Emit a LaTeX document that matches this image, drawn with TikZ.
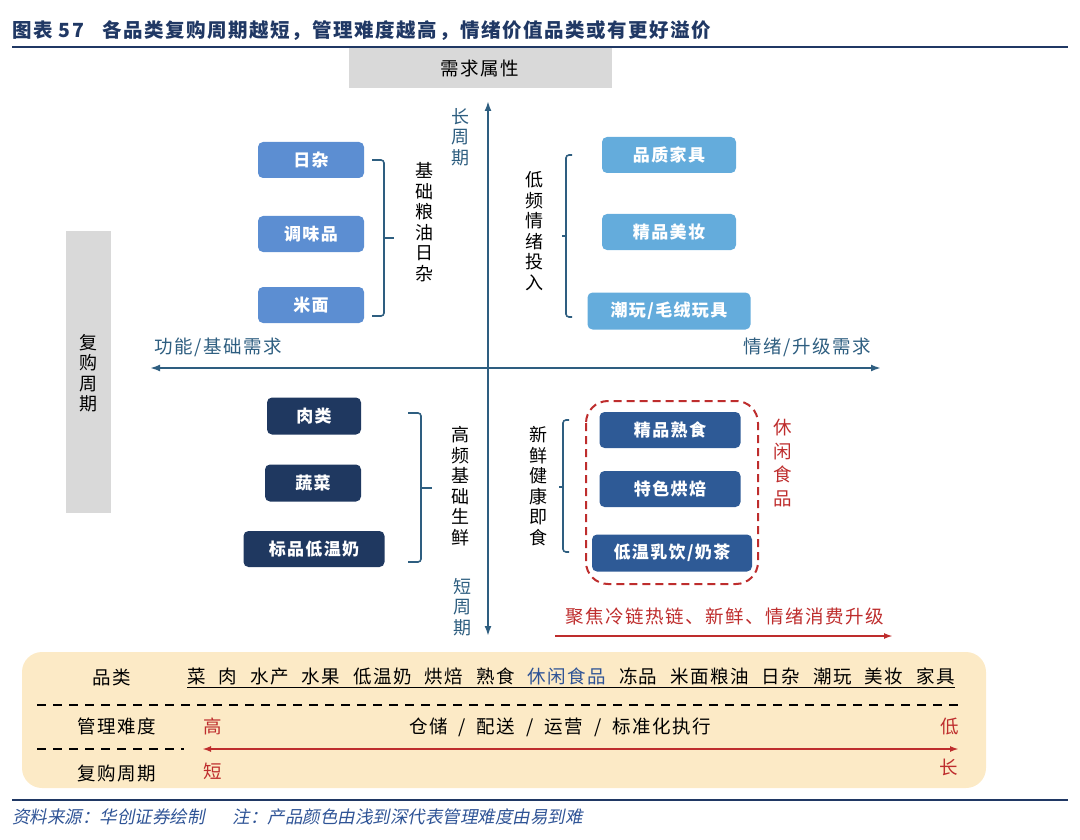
\documentclass[tikz,border=0pt]{standalone}
\usepackage{fontspec}
\setmainfont{Noto Sans CJK SC}[LetterSpace=8]
\newfontfamily\slantfont[FakeSlant=0.2]{Noto Sans CJK SC}
\usetikzlibrary{arrows.meta}

\definecolor{titleblue}{RGB}{32,56,100}
\definecolor{axisblue}{RGB}{46,94,128}
\definecolor{lightbox}{RGB}{92,142,210}
\definecolor{skybox}{RGB}{100,172,220}
\definecolor{navybox}{RGB}{31,56,96}
\definecolor{midbox}{RGB}{46,90,150}
\definecolor{accent}{RGB}{190,45,45}
\definecolor{panel}{RGB}{252,234,198}
\definecolor{greybox}{RGB}{217,217,217}
\definecolor{noteblue}{RGB}{47,84,150}

\begin{document}
\begin{tikzpicture}[x=1pt, y=-1pt,
  catbox/.style={fill=#1, rounded corners=5pt, text=white, inner sep=0pt,
    font=\fontsize{17}{17}\selectfont\bfseries},
  vlab/.style={align=center, inner sep=0pt, font=\fontsize{18}{20.5}\selectfont},
  hlab/.style={inner sep=0pt, font=\fontsize{18.5}{18.5}\selectfont},
  axis/.style={axisblue, line width=2.2pt, arrows={-Latex[length=10pt,width=7pt]}},
  brace/.style={axisblue, line width=1.6pt, rounded corners=3pt},
  dashline/.style={black, line width=2.2pt, dash pattern=on 9pt off 7pt}]
  \useasboundingbox (0,0) rectangle (1080,840);

  % Title and rules
  \node[anchor=west, inner sep=0pt, text=titleblue, font=\fontsize{19.5}{19.5}\selectfont\bfseries]
    (title) at (12,31) {图表 57\hspace{18pt}各品类复购周期越短，管理难度越高，情绪价值品类或有更好溢价};
  \draw[titleblue, line width=2.5pt] (12,47) -- (1068,47);
  \draw[titleblue, line width=2.5pt] (12,800) -- (1068,800);

  % Grey headers
  \node[fill=greybox, minimum width=263, minimum height=40, inner sep=0pt, hlab] (demand) at (480,68) {需求属性};
  \node[fill=greybox, minimum width=45, minimum height=282, inner sep=0pt] (cyclebar) at (88,372) {};
  \node[vlab] (cycle) at (88,373) {复\\购\\周\\期};

  % Axes
  \coordinate (xmid) at (488,368);
  \coordinate (xleft) at (150,368);
  \coordinate (xright) at (881,368);
  \coordinate (ytop) at (488,101);
  \coordinate (ybot) at (488,636);
  \draw[axis] (xmid) -- (xleft);
  \draw[axis] (xmid) -- (xright);
  \draw[axis] (xmid) -- (ytop);
  \draw[axis] (xmid) -- (ybot);

  % Axis labels
  \node[vlab, text=axisblue] (long) at (460,137) {长\\周\\期};
  \node[vlab, text=axisblue] (short) at (462,607) {短\\周\\期};
  \node[hlab, text=axisblue] (basic) at (218,347) {功能/基础需求};
  \node[hlab, text=axisblue] (upgrade) at (807,347) {情绪/升级需求};

  % Top left
  \node[catbox=lightbox, minimum width=106, minimum height=36] (daily) at (311,160) {日杂};
  \node[catbox=lightbox, minimum width=106, minimum height=36] (spice) at (311,234) {调味品};
  \node[catbox=lightbox, minimum width=106, minimum height=36] (rice) at (311,305) {米面};
  \draw[brace] (372,160) -- (384,160) -- (384,316) -- (372,316);
  \draw[brace] (384,238) -- (394,238);
  \node[vlab] (staple) at (424,222) {基\\础\\粮\\油\\日\\杂};

  % Top right
  \node[catbox=skybox, minimum width=134, minimum height=36] (furniture) at (669,155) {品质家具};
  \node[catbox=skybox, minimum width=134, minimum height=36] (beauty) at (669,232) {精品美妆};
  \node[catbox=skybox, minimum width=163, minimum height=37] (toys) at (669,311) {潮玩/毛绒玩具};
  \draw[brace] (572,155) -- (566,155) -- (566,317) -- (572,317);
  \draw[brace] (566,236) -- (562,236);
  \node[vlab] (emotion) at (534,231) {低\\频\\情\\绪\\投\\入};

  % Bottom left
  \node[catbox=navybox, minimum width=94, minimum height=37] (meat) at (314,416) {肉类};
  \node[catbox=navybox, minimum width=96, minimum height=37] (veg) at (313,483) {蔬菜};
  \node[catbox=navybox, minimum width=141, minimum height=36] (milk) at (314,549) {标品低温奶};
  \draw[brace] (408,413) -- (421,413) -- (421,562) -- (408,562);
  \draw[brace] (421,488) -- (432,488);
  \node[vlab] (fresh) at (460,486) {高\\频\\基\\础\\生\\鲜};

  % Bottom right
  \node[catbox=midbox, minimum width=141, minimum height=36] (deli) at (670,430) {精品熟食};
  \node[catbox=midbox, minimum width=141, minimum height=36] (bakery) at (670,489) {特色烘焙};
  \node[catbox=midbox, minimum width=160, minimum height=37] (drink) at (672,553) {低温乳饮/奶茶};
  \draw[brace] (569,420) -- (563,420) -- (563,552) -- (569,552);
  \draw[brace] (563,487) -- (559,487);
  \node[vlab] (ready) at (538,486) {新\\鲜\\健\\康\\即\\食};
  \draw[accent, line width=2pt, dash pattern=on 8pt off 5pt, rounded corners=22pt] (586,401) rectangle (758,584);
  \node[vlab, text=accent, font=\fontsize{18.5}{23.5}\selectfont] (snack) at (783,463) {休\\闲\\食\\品};

  % Upgrade arrow
  \node[hlab, text=accent, font=\fontsize{18.5}{18.5}\selectfont] (focus) at (725,617) {聚焦冷链热链、新鲜、情绪消费升级};
  \coordinate (fstart) at (555,636);
  \coordinate (fend) at (893,636);
  \draw[accent, line width=1.8pt, arrows={-Latex[length=9pt,width=6pt]}] (fstart) -- (fend);

  % Bottom panel
  \fill[panel, rounded corners=20pt] (22,652) rectangle (986,788);
  \node[hlab] (cathead) at (112,677) {品类};
  \node[hlab, anchor=west] (cats) at (187,676) {菜\hspace{13pt}肉\hspace{13pt}水产\hspace{13pt}水果\hspace{13pt}低温奶\hspace{13pt}烘焙\hspace{13pt}熟食\hspace{13pt}\textcolor{noteblue}{休闲食品}\hspace{13pt}冻品\hspace{13pt}米面粮油\hspace{13pt}日杂\hspace{13pt}潮玩\hspace{13pt}美妆\hspace{13pt}家具};
  \draw[line width=0.8pt] (187,687) -- (cats.east |- 0,687);
  \draw[dashline] (37,705) -- (958,705);
  \draw[dashline] (37,749) -- (184,749);
  \node[hlab] (mgmt) at (117,726) {管理难度};
  \node[hlab] (repeat) at (117,774) {复购周期};
  \node[hlab, text=accent] (high) at (213,726) {高};
  \node[hlab, text=accent] (low) at (950,727) {低};
  \node[hlab, text=accent] (shortc) at (213,771) {短};
  \node[hlab, text=accent] (longc) at (949,767) {长};
  \node[hlab] (ops) at (560,727) {仓储\hspace{11pt}/\hspace{11pt}配送\hspace{11pt}/\hspace{11pt}运营\hspace{11pt}/\hspace{11pt}标准化执行};
  \coordinate (aleft) at (202,749);
  \coordinate (aright) at (959,749);
  \draw[accent, line width=2.4pt, arrows={Latex[length=9pt,width=6pt]-Latex[length=9pt,width=6pt]}] (aleft) -- (aright);

  % Footer
  \node[anchor=west, inner sep=0pt, text=noteblue, font=\slantfont\fontsize{17.5}{17.5}\selectfont]
    (source) at (12,817) {资料来源：华创证券绘制\hspace{28pt}注：产品颜色由浅到深代表管理难度由易到难};
\end{tikzpicture}
\end{document}
